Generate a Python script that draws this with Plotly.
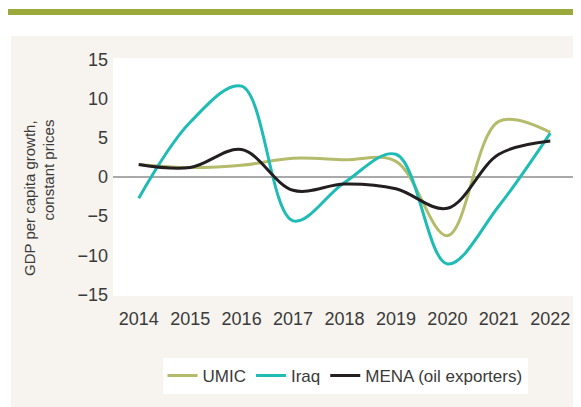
import plotly.graph_objects as go

years = [2014, 2015, 2016, 2017, 2018, 2019, 2020, 2021, 2022]
umic = [1.6, 1.2, 1.5, 2.4, 2.2, 2.0, -7.5, 7.1, 5.7]
iraq = [-2.7, 7.0, 11.6, -5.6, -0.7, 2.9, -11.1, -3.7, 5.6]
mena = [1.6, 1.2, 3.5, -1.7, -0.9, -1.5, -4.0, 2.9, 4.6]
y_ticks = [-15, -10, -5, 0, 5, 10, 15]

FONT = "Liberation Sans, Arial, sans-serif"
TXT = "#3a3a3a"
W, H = 581, 407
L, R, T, B = 105, 13, 50, 119
pw, ph = W - L - R, H - T - B

def px(x):
    return (x - L) / pw

def py(y):
    return (H - B - y) / ph

fig = go.Figure()
series = [("UMIC", umic, "#b4bc6c"), ("Iraq", iraq, "#1fbcb6"), ("MENA (oil exporters)", mena, "#231f20")]
for name, vals, col in series:
    fig.add_trace(go.Scatter(x=years, y=vals, name=name, mode="lines",
                             line=dict(color=col, width=3, shape="spline", smoothing=1.0)))

shapes = [
    dict(type="rect", xref="paper", yref="paper", x0=px(3), x1=px(600), y0=py(420), y1=py(28),
         fillcolor="#f7f3ee", line=dict(width=0), layer="below"),
    dict(type="rect", xref="paper", yref="paper", x0=0, x1=1, y0=0, y1=1,
         fillcolor="#ffffff", line=dict(width=0), layer="below"),
    dict(type="rect", xref="paper", yref="paper", x0=px(0), x1=px(600), y0=py(7), y1=py(1),
         fillcolor="#9aa83c", line=dict(width=0), layer="below"),
]

title_font = dict(size=15, family=FONT, color=TXT)
annotations = [
    dict(text="GDP per capita growth,", textangle=-90, xref="paper", yref="paper",
         x=px(21), y=py(110), xanchor="center", yanchor="top", showarrow=False, font=title_font),
    dict(text="constant prices", textangle=-90, xref="paper", yref="paper",
         x=px(40), y=py(110), xanchor="center", yanchor="top", showarrow=False, font=title_font),
]

fig.update_layout(
    width=W, height=H,
    margin=dict(l=L, r=R, t=T, b=B, autoexpand=False),
    paper_bgcolor="#ffffff",
    plot_bgcolor="rgba(0,0,0,0)",
    font=dict(family=FONT, size=18, color=TXT),
    shapes=shapes,
    annotations=annotations,
    showlegend=True,
    legend=dict(orientation="h", x=px(337), xanchor="center", y=py(368), yanchor="middle",
                bgcolor="#ffffff", font=dict(size=17, family=FONT, color=TXT),
                itemwidth=30, tracegroupgap=0),
)
fig.update_xaxes(range=[2013.5, 2022.5], tickvals=years, ticktext=[str(y) for y in years],
                 showgrid=False, zeroline=False, showline=False, ticks="",
                 ticklabelstandoff=10, automargin=False)
fig.update_yaxes(range=[-15.2, 15.2], tickvals=y_ticks, showgrid=False, zeroline=True,
                 zerolinecolor="#aaaaaa", zerolinewidth=1.5, showline=False, ticks="",
                 ticklabelstandoff=4, automargin=False)

fig.write_html("out.html")
